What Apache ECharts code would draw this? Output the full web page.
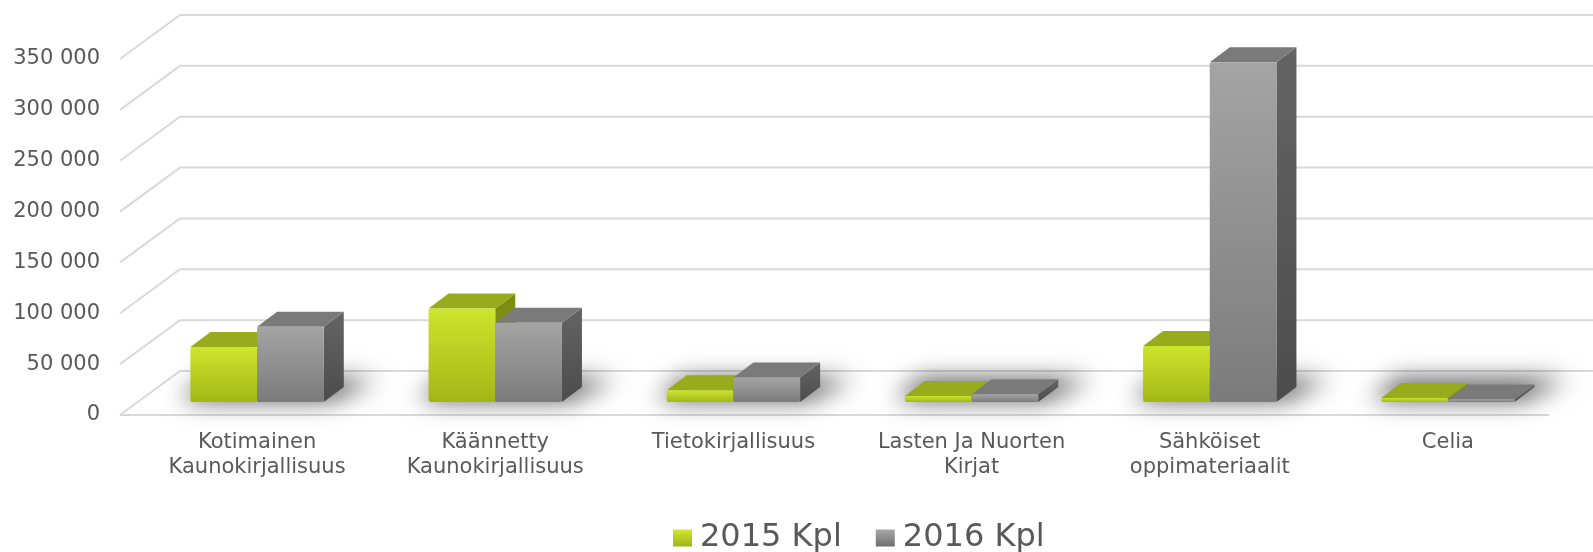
<!DOCTYPE html>
<html>
<head>
    <meta charset="utf-8">
    <script src="https://cdn.jsdelivr.net/npm/echarts@6/dist/echarts.min.js"></script>
</head>
<body style="margin:0;background:#fff">
<div id="main" style="width:1593px;height:552px;"></div>

<script type="text/javascript">
    var categories = ['Kotimainen\nKaunokirjallisuus', 'Käännetty\nKaunokirjallisuus', 'Tietokirjallisuus',
        'Lasten Ja Nuorten\nKirjat', 'Sähköiset\noppimateriaalit', 'Celia'];
    var kpl2015 = [54000, 92000, 11500, 6000, 55000, 4000];
    var kpl2016 = [74000, 78000, 24000, 7500, 334000, 2500];
    var yTicks = [0, 50000, 100000, 150000, 200000, 250000, 300000, 350000];

    // fake 3D: pixel offsets for depth
    var WALL_DX = 60, WALL_DY = -44;   // floor / back wall
    var BAR_DX = 18, BAR_DY = -13;     // where the bars stand
    var CUBE_DX = 20, CUBE_DY = -15;   // depth of one bar
    var FONT = 'DejaVu Sans';

    function grad(c0, c1) {
        return {type: 'linear', x: 0, y: 0, x2: 0, y2: 1,
            colorStops: [{offset: 0, color: c0}, {offset: 1, color: c1}]};
    }

    var green = {front: grad('#cde52c', '#a2b717'), top: '#97ab1c', side: '#7b8e10'};
    var grey = {front: grad('#a4a4a4', '#7b7b7b'), top: '#7a7a7a', side: grad('#646464', '#4c4c4c')};

    function barRenderer(left, col) {
        return function (params, api) {
            var i = api.value(0);
            var top = api.coord([i, api.value(1)]);
            var base = api.coord([i, 0]);
            var bw = api.size([1, 0])[0] * 0.28;
            var x = top[0] + BAR_DX + (left ? -bw : 0);
            var y1 = top[1] + BAR_DY, y0 = base[1] + BAR_DY;
            return {
                type: 'group',
                children: [
                    {type: 'polygon', shape: {points: [[x + bw, y1], [x + bw + CUBE_DX, y1 + CUBE_DY],
                        [x + bw + CUBE_DX, y0 + CUBE_DY], [x + bw, y0]]}, style: {fill: col.side}},
                    {type: 'polygon', shape: {points: [[x, y1], [x + CUBE_DX, y1 + CUBE_DY],
                        [x + bw + CUBE_DX, y1 + CUBE_DY], [x + bw, y1]]}, style: {fill: col.top}},
                    {type: 'rect', shape: {x: x, y: y1, width: bw, height: y0 - y1, r: 2}, style: {fill: col.front}}
                ]
            };
        };
    }

    var dom = document.getElementById('main');
    var myChart = echarts.init(dom);

    var SHIFT = 4000; // shadow is cast from a shape drawn off-screen

    var option = {
        animation: false,
        backgroundColor: '#ffffff',
        grid: {left: 120, top: 59, width: 1429, height: 356},
        legend: {
            left: 673, top: 522, padding: 0, itemGap: 34,
            itemWidth: 19, itemHeight: 17, icon: 'rect',
            textStyle: {fontSize: 32, color: '#595959', fontFamily: FONT, padding: [0, 0, 0, 3]},
            data: [
                {name: '2015 Kpl', itemStyle: {color: grad('#d2e830', '#9db314')}},
                {name: '2016 Kpl', itemStyle: {color: grad('#a8a8a8', '#6f6f6f')}}
            ]
        },
        xAxis: {
            type: 'category',
            data: categories,
            axisLine: {show: false},
            axisTick: {show: false},
            axisLabel: {
                interval: 0, margin: 15, padding: [0, 0, 0, 36],
                fontSize: 21, lineHeight: 25, color: '#595959', fontFamily: FONT
            }
        },
        yAxis: {
            type: 'value',
            min: 0, max: 350000, interval: 50000,
            splitLine: {show: false},
            axisLine: {show: false},
            axisTick: {show: false},
            axisLabel: {
                margin: 20, fontSize: 21, color: '#595959', fontFamily: FONT,
                formatter: function (v) {
                    return String(v).replace(/\B(?=(\d{3})+(?!\d))/g, ' ');
                }
            }
        },
        series: [
            {
                // floor, side wall and back wall lines
                type: 'custom', silent: true, z: 1,
                data: yTicks.map(function (v) { return [0, v]; }),
                renderItem: function (params, api) {
                    var cs = params.coordSys;
                    var y = api.coord([0, api.value(1)])[1];
                    var st = {stroke: '#d9d9d9', lineWidth: 2, fill: null};
                    var kids = [{type: 'polyline', shape: {points: [[cs.x, y], [cs.x + WALL_DX, y + WALL_DY],
                        [cs.x + cs.width + WALL_DX, y + WALL_DY]]}, style: st}];
                    if (api.value(1) === 0) {
                        kids.push({type: 'line', shape: {x1: cs.x, y1: y, x2: cs.x + cs.width, y2: y}, style: st});
                    }
                    return {type: 'group', children: kids};
                }
            },
            {
                // soft floor shadow under each pair of bars
                type: 'custom', silent: true, z: 2,
                data: kpl2015.map(function (v, i) { return [i, 0]; }),
                renderItem: function (params, api) {
                    var i = api.value(0);
                    var c = api.coord([i, 0]);
                    var bw = api.size([1, 0])[0] * 0.28;
                    var x0 = c[0] + BAR_DX - bw - 10, x1 = c[0] + BAR_DX + bw + 8;
                    var y0 = c[1] + BAR_DY - 2;
                    return {
                        type: 'polygon',
                        shape: {points: [[x0 - SHIFT, y0], [x0 + CUBE_DX + 6 - SHIFT, y0 + CUBE_DY - 6],
                            [x1 + CUBE_DX + 26 - SHIFT, y0 + CUBE_DY - 6], [x1 - SHIFT, y0]]},
                        style: {fill: '#000', shadowBlur: 24, shadowOffsetX: SHIFT,
                            shadowColor: 'rgba(0,0,0,0.7)'}
                    };
                }
            },
            {
                name: '2015 Kpl', type: 'custom', z: 3,
                itemStyle: {color: '#b5cc1e'},
                data: kpl2015.map(function (v, i) { return [i, v]; }),
                renderItem: barRenderer(true, green)
            },
            {
                name: '2016 Kpl', type: 'custom', z: 4,
                itemStyle: {color: '#8c8c8c'},
                data: kpl2016.map(function (v, i) { return [i, v]; }),
                renderItem: barRenderer(false, grey)
            }
        ]
    };

    if (option && typeof option === 'object') {
        myChart.setOption(option, true);
    }
</script>
</body>
</html>
